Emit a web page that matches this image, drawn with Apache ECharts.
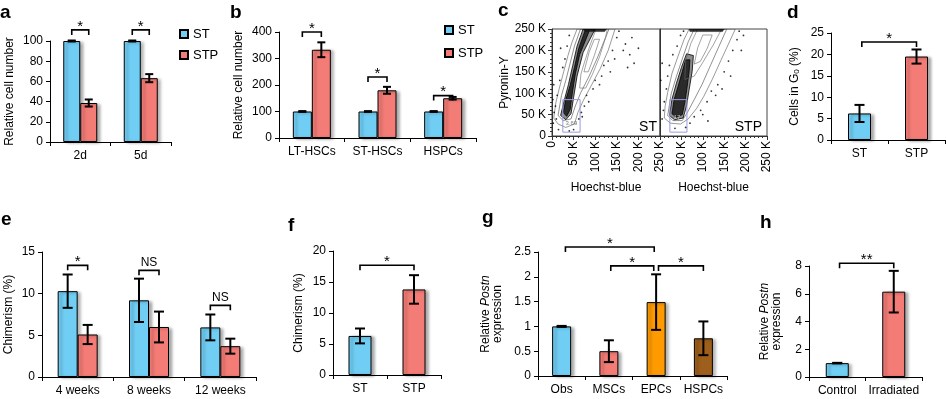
<!DOCTYPE html>
<html>
<head>
<meta charset="utf-8">
<script src="https://cdn.jsdelivr.net/npm/echarts@6/dist/echarts.min.js"></script>
<style>
html, body { margin: 0; padding: 0; background: #fff; }
#chart { width: 946px; height: 399px; }
</style>
</head>
<body>
<div id="chart"></div>
<script>
// ---- datos ----

// a
const aCats = ['2d', '5d'];
const aST = [100, 100];
const aSTErr = [0.5, 0.5];
const aSTP = [38.6, 63.2];
const aSTPErr = [3.5, 4];
const aSigY = [111, 111];
const aSigText = ['*', '*'];

// b
const bCats = ['LT-HSCs', 'ST-HSCs', 'HSPCs'];
const bST = [100, 100, 100];
const bSTErr = [1.5, 1.5, 1.5];
const bSTP = [333, 180, 150];
const bSTPErr = [28, 13, 5];
const bSigY = [400, 230, 160];
const bSigText = ['*', '*', '*'];

// c (citometría, valores en K)
const stOuter = [[4,42],[14,28],[32,20],[52,28],[60,55],[72,82],[92,120],[112,158],[130,200],[146,250],[58,250],[46,218],[37,188],[27,150],[17,112],[9,78],[4,42]];
const stMid = [[14,48],[26,36],[44,40],[54,70],[66,100],[86,140],[106,185],[124,230],[132,250],[66,250],[52,210],[42,170],[32,130],[22,95],[14,48]];
const stDense1 = [[20,48],[32,38],[44,52],[50,90],[58,140],[72,195],[100,250],[72,250],[58,210],[48,165],[38,120],[28,82],[20,48]];
const stDense2 = [[26,55],[34,46],[42,62],[47,100],[54,145],[64,190],[86,245],[76,245],[62,205],[52,160],[42,118],[32,85],[26,55]];
const stLobe1 = [[64,112],[78,112],[94,145],[110,185],[124,230],[128,250],[102,250],[88,212],[76,175],[67,145],[64,112]];
const stLobe2 = [[74,150],[84,150],[98,188],[110,226],[98,226],[86,196],[74,150]];
const stTop = [[76,244],[122,244],[126,250],[72,250]];
const stGate = [[25,9],[65,9],[65,85],[25,85],[25,9]];
const stDots = [[3,30],[5,55],[8,70],[10,40],[12,95],[4,120],[15,15],[18,130],[25,160],[30,180],[35,210],[40,235],[62,40],[68,55],[75,70],[80,95],[95,110],[100,130],[115,140],[120,165],[130,175],[140,200],[150,230],[155,245],[165,200],[170,215],[180,190],[185,230],[190,170],[200,205],[175,160],[145,180],[135,150],[110,120],[85,80],[70,45],[50,15],[40,12],[2,85],[20,205]];
const stGateLabel = [[45, 30]];

const stpOuter = [[10,42],[24,30],[48,28],[66,40],[86,65],[102,92],[122,132],[142,176],[160,215],[176,250],[68,250],[56,225],[42,186],[28,146],[18,102],[12,70],[10,42]];
const stpMid = [[18,48],[30,36],[52,36],[64,55],[80,85],[98,120],[118,165],[138,210],[156,250],[80,250],[66,220],[52,180],[38,138],[26,98],[18,48]];
const stpDense1 = [[22,48],[34,38],[54,42],[62,70],[68,108],[75,150],[78,188],[62,192],[50,160],[38,122],[28,86],[22,48]];
const stpDense2 = [[28,52],[38,44],[52,50],[58,78],[63,112],[68,150],[70,178],[60,178],[52,150],[42,115],[33,85],[28,52]];
const stpLobe1 = [[58,132],[80,140],[100,172],[124,212],[144,250],[88,250],[72,216],[60,176],[58,132]];
const stpLobe2 = [[80,168],[94,174],[110,204],[122,236],[100,236],[88,206],[80,168]];
const stpTop = [[70,244],[146,244],[150,250],[68,250]];
const stpGate = [[23,9],[63,9],[63,85],[23,85],[23,9]];
const stpDots = [[5,40],[8,60],[10,80],[15,110],[18,140],[22,165],[30,190],[40,210],[48,235],[55,245],[2,130],[5,170],[70,30],[80,45],[95,60],[110,80],[120,105],[135,120],[150,150],[160,175],[170,200],[180,225],[185,245],[145,110],[100,50],[60,20],[35,18],[130,95],[190,200],[165,140],[112,35],[195,235]];
const stpGateLabel = [[40, 44]];

// d
const dCats = ['ST', 'STP'];
const dVals = [6.2, 19.5];
const dErr = [2.0, 1.65];
const dSigY = 22.9;

// e
const eCats = ['4 weeks', '8 weeks', '12 weeks'];
const eST = [10.3, 9.2, 5.95];
const eSTErr = [2.0, 2.6, 1.55];
const eSTP = [5.1, 6.0, 3.7];
const eSTPErr = [1.15, 1.85, 0.9];
const eSigY = [13.4, 12.8, 8.6];
const eSigText = ['*', 'NS', 'NS'];

// f
const fCats = ['ST', 'STP'];
const fVals = [6.3, 13.8];
const fErr = [1.2, 2.3];
const fSigY = 17.7;

// g
const gCats = ['Obs', 'MSCs', 'EPCs', 'HSPCs'];
const gVals = [1.0, 0.5, 1.49, 0.76];
const gErr = [0.01, 0.22, 0.56, 0.34];
const gSigY = [2.6, 2.22, 2.22];

// h
const hCats = ['Control', 'Irradiated'];
const hVals = [1.0, 6.15];
const hErr = [0.02, 1.5];
const hSigY = 8.2;

// ---- estilos ----
const FONT = '"Liberation Sans", Arial, Helvetica, sans-serif';
const BLUE = '#70CEF5';
const RED = '#F47C76';
const ORANGE = '#FF9A00';
const BROWN = '#9E5F1C';

const barItem = (color) => ({
    color: color,
    borderColor: '#000',
    borderWidth: 1,
    shadowColor: 'rgba(0,0,0,0.35)',
    shadowBlur: 3,
    shadowOffsetX: 3,
    shadowOffsetY: 1
});

function catAxis(grid, cats) {
    return {
        type: 'category', gridIndex: grid, data: cats, boundaryGap: true,
        axisLine: { lineStyle: { color: '#000', width: 1 } },
        axisTick: { show: true, length: 4, interval: 0, lineStyle: { color: '#000' } },
        axisLabel: { color: '#000', fontSize: 12, fontFamily: FONT, margin: 8, interval: 0 }
    };
}

function valAxis(grid, max, interval, name, nameGap, rich) {
    return {
        type: 'value', gridIndex: grid, min: 0, max: max, interval: interval,
        name: name, nameLocation: 'middle', nameGap: nameGap, nameRotate: 90,
        nameTextStyle: { color: '#000', fontSize: 12, fontFamily: FONT, lineHeight: 12, rich: rich || {} },
        axisLine: { show: true, lineStyle: { color: '#000', width: 1 } },
        axisTick: { show: true, length: 4, lineStyle: { color: '#000' } },
        splitLine: { show: false },
        axisLabel: { color: '#000', fontSize: 12, fontFamily: FONT, margin: 7 }
    };
}

function barSeries(name, grid, values, color, bw) {
    return {
        type: 'bar', name: name, xAxisIndex: grid, yAxisIndex: grid,
        data: values, barWidth: bw, barGap: '0%',
        itemStyle: barItem(color), silent: true
    };
}

function coloredBars(grid, values, colors, bw) {
    return {
        type: 'bar', name: 'bars' + grid, xAxisIndex: grid, yAxisIndex: grid,
        data: values.map((v, i) => ({ value: v, itemStyle: barItem(colors[i]) })),
        barWidth: bw, silent: true
    };
}

// data: [cat, offset (en medias barras), valor, error]
function errorSeries(grid, rows, bw, cap) {
    return {
        type: 'custom', xAxisIndex: grid, yAxisIndex: grid, z: 5, silent: true,
        encode: { x: 0, y: 2 }, data: rows,
        renderItem: function (params, api) {
            const cat = api.value(0), v = api.value(2), e = api.value(3);
            const x = api.coord([cat, v])[0] + api.value(1) * bw / 2;
            const top = api.coord([cat, v + e])[1];
            const bot = api.coord([cat, v - e])[1];
            const st = { stroke: '#000', lineWidth: 2 };
            return {
                type: 'group', children: [
                    { type: 'line', shape: { x1: x, y1: top, x2: x, y2: bot }, style: st },
                    { type: 'line', shape: { x1: x - cap, y1: top, x2: x + cap, y2: top }, style: st },
                    { type: 'line', shape: { x1: x - cap, y1: bot, x2: x + cap, y2: bot }, style: st }
                ]
            };
        }
    };
}

// data: [catA, offA, catB, offB, y]
function bracketSeries(grid, rows, texts, bw, fontSize) {
    return {
        type: 'custom', xAxisIndex: grid, yAxisIndex: grid, z: 6, silent: true,
        encode: { x: 0, y: 4 }, data: rows,
        renderItem: function (params, api) {
            const y = api.coord([api.value(0), api.value(4)])[1];
            const x1 = api.coord([api.value(0), 0])[0] + api.value(1) * bw / 2;
            const x2 = api.coord([api.value(2), 0])[0] + api.value(3) * bw / 2;
            const txt = texts[params.dataIndex];
            return {
                type: 'group', children: [
                    { type: 'polyline', shape: { points: [[x1, y + 5], [x1, y], [x2, y], [x2, y + 5]] },
                      style: { stroke: '#000', lineWidth: 1.6, fill: 'none' } },
                    { type: 'text', x: (x1 + x2) / 2, y: txt === '*' || txt === '**' ? y + 4 : y - 2,
                      style: { text: txt, fill: '#000', font: (txt === 'NS' ? 12 : fontSize) + 'px ' + FONT,
                               align: 'center', verticalAlign: 'bottom' } }
                ]
            };
        }
    };
}

const SHAPE_STYLES = [
    { fill: 'none', stroke: '#555', lineWidth: 0.6 },
    { fill: 'none', stroke: '#444', lineWidth: 0.6 },
    { fill: 'rgba(0,0,0,0.45)', stroke: '#000', lineWidth: 0.8 },
    { fill: 'rgba(0,0,0,0.7)', stroke: '#000', lineWidth: 0.8 },
    { fill: 'none', stroke: '#666', lineWidth: 0.6 },
    { fill: 'none', stroke: '#666', lineWidth: 0.6 },
    { fill: 'rgba(0,0,0,0.8)', stroke: '#222', lineWidth: 0.5 },
    { fill: 'none', stroke: '#9a9ae0', lineWidth: 1 }
];

function shapeSeries(grid, shapes) {
    return {
        type: 'custom', xAxisIndex: grid, yAxisIndex: grid, silent: true, clip: true,
        encode: { x: 0, y: 1 }, data: shapes.map((s, i) => [i, 0]),
        renderItem: function (params, api) {
            const pts = shapes[params.dataIndex].map(p => api.coord(p));
            return { type: 'polygon', shape: { points: pts }, style: Object.assign({}, SHAPE_STYLES[params.dataIndex]) };
        }
    };
}

function dotSeries(grid, dots) {
    return { type: 'scatter', xAxisIndex: grid, yAxisIndex: grid, data: dots, symbolSize: 1.8,
             itemStyle: { color: '#000' }, silent: true };
}

function gateLabel(grid, pos, text, color) {
    return { type: 'scatter', xAxisIndex: grid, yAxisIndex: grid, data: pos, symbolSize: 0, silent: true, z: 8,
             label: { show: true, position: 'inside', formatter: text, fontSize: 6, color: color, fontFamily: FONT } };
}

function flowX(grid, hideZero) {
    return {
        type: 'value', gridIndex: grid, min: 0, max: 250, interval: 50,
        name: 'Hoechst-blue', nameLocation: 'middle', nameGap: 46,
        nameTextStyle: { color: '#000', fontSize: 12, fontFamily: FONT },
        axisLine: { show: true, lineStyle: { color: '#333' } },
        axisTick: { show: true, length: 4, lineStyle: { color: '#333' } },
        minorTick: { show: true, splitNumber: 5, length: 2, lineStyle: { color: '#333' } },
        splitLine: { show: false },
        axisLabel: { rotate: 90, color: '#000', fontSize: 12, fontFamily: FONT, margin: 5,
                     showMinLabel: !hideZero,
                     formatter: v => (v === 0 ? '0' : v + ' K') }
    };
}

function flowY(grid, labels) {
    return {
        type: 'value', gridIndex: grid, min: 0, max: 250, interval: 50,
        name: labels ? 'Pyronin-Y' : '', nameLocation: 'middle', nameGap: 41, nameRotate: 90,
        nameTextStyle: { color: '#000', fontSize: 12, fontFamily: FONT },
        axisLine: { show: true, lineStyle: { color: '#333' } },
        axisTick: { show: labels, length: 4, lineStyle: { color: '#333' } },
        minorTick: { show: labels, splitNumber: 5, length: 2, lineStyle: { color: '#333' } },
        splitLine: { show: false },
        axisLabel: { show: labels, color: '#000', fontSize: 12, fontFamily: FONT, margin: 6,
                     formatter: v => (v === 0 ? '0' : v + ' K') }
    };
}

const chart = echarts.init(document.getElementById('chart'), null, { renderer: 'canvas' });

const letters = [
    ['a', 0, 13], ['b', 230, 13], ['c', 498, 11], ['d', 787, 13],
    ['e', 1, 220], ['f', 288, 226], ['g', 482, 218], ['h', 760, 223]
];

const option = {
    animation: false,
    textStyle: { fontFamily: FONT },
    grid: [
        { left: 50, top: 41, width: 121, height: 101 },     // a
        { left: 279, top: 32, width: 197, height: 106 },    // b
        { left: 552, top: 29, width: 108, height: 107, show: true, borderColor: '#444', borderWidth: 1 }, // c ST
        { left: 660, top: 29, width: 107, height: 107, show: true, borderColor: '#444', borderWidth: 1 }, // c STP
        { left: 831, top: 33, width: 114, height: 107 },    // d
        { left: 42, top: 252, width: 214, height: 125 },    // e
        { left: 333, top: 251, width: 108, height: 124 },   // f
        { left: 538, top: 252, width: 189, height: 124 },   // g
        { left: 809, top: 266, width: 113, height: 111 }    // h
    ],
    xAxis: [
        catAxis(0, aCats), catAxis(1, bCats), flowX(2, false), flowX(3, true),
        catAxis(4, dCats), catAxis(5, eCats), catAxis(6, fCats), catAxis(7, gCats), catAxis(8, hCats)
    ],
    yAxis: [
        valAxis(0, 100, 20, 'Relative cell number', 34),
        valAxis(1, 400, 100, 'Relative cell number', 34),
        flowY(2, true), flowY(3, false),
        valAxis(4, 25, 5, 'Cells in G{s|0} (%)', 30, { s: { fontSize: 8, verticalAlign: 'bottom', fontFamily: FONT } }),
        valAxis(5, 15, 5, 'Chimerism (%)', 27),
        valAxis(6, 20, 5, 'Chimerism (%)', 28),
        valAxis(7, 2.5, 0.5, 'Relative {i|Postn}\nexpression', 34, { i: { fontStyle: 'italic', fontSize: 12, fontFamily: FONT } }),
        valAxis(8, 8, 2, 'Relative {i|Postn}\nexpression', 26, { i: { fontStyle: 'italic', fontSize: 12, fontFamily: FONT } })
    ],
    legend: [
        { left: 174, top: 22, orient: 'vertical', itemWidth: 8, itemHeight: 8, itemGap: 7, itemTextGap: 4,
          selectedMode: false, data: ['ST', 'STP'], icon: 'rect',
          textStyle: { fontSize: 13, color: '#000', fontFamily: FONT, lineHeight: 14 } },
        { left: 439, top: 18, orient: 'vertical', itemWidth: 8, itemHeight: 8, itemGap: 9, itemTextGap: 4,
          selectedMode: false, data: ['ST', 'STP'], icon: 'rect',
          textStyle: { fontSize: 13, color: '#000', fontFamily: FONT, lineHeight: 14 } }
    ],
    graphic: letters.map(l => ({
        type: 'text', x: l[1], y: l[2], silent: true,
        style: { text: l[0], font: 'bold 19px ' + FONT, fill: '#000', align: 'left', verticalAlign: 'middle' }
    })).concat([
        { type: 'text', x: 657, y: 127, silent: true,
          style: { text: 'ST', font: '14px ' + FONT, fill: '#000', align: 'right', verticalAlign: 'middle' } },
        { type: 'text', x: 762, y: 127, silent: true,
          style: { text: 'STP', font: '14px ' + FONT, fill: '#000', align: 'right', verticalAlign: 'middle' } }
    ]),
    series: [
        // a
        barSeries('ST', 0, aST, BLUE, 17),
        barSeries('STP', 0, aSTP, RED, 17),
        errorSeries(0, aST.map((v, i) => [i, -1, v, aSTErr[i]]).concat(aSTP.map((v, i) => [i, 1, v, aSTPErr[i]])), 17, 4),
        bracketSeries(0, aSigY.map((y, i) => [i, -1, i, 1, y]), aSigText, 17, 15),
        // b
        barSeries('ST', 1, bST, BLUE, 19),
        barSeries('STP', 1, bSTP, RED, 19),
        errorSeries(1, bST.map((v, i) => [i, -1, v, bSTErr[i]]).concat(bSTP.map((v, i) => [i, 1, v, bSTPErr[i]])), 19, 4),
        bracketSeries(1, bSigY.map((y, i) => [i, -1, i, 1, y]), bSigText, 19, 15),
        // c
        shapeSeries(2, [stOuter, stMid, stDense1, stDense2, stLobe1, stLobe2, stTop, stGate]),
        dotSeries(2, stDots),
        gateLabel(2, stGateLabel, '3.69', '#555'),
        shapeSeries(3, [stpOuter, stpMid, stpDense1, stpDense2, stpLobe1, stpLobe2, stpTop, stpGate]),
        dotSeries(3, stpDots),
        gateLabel(3, stpGateLabel, '17', '#ddd'),
        // d
        coloredBars(4, dVals, [BLUE, RED], 23),
        errorSeries(4, dVals.map((v, i) => [i, 0, v, dErr[i]]), 23, 5),
        bracketSeries(4, [[0, 0.2, 1, 0, dSigY]], ['*'], 23, 15),
        // e
        barSeries('ST', 5, eST, BLUE, 20),
        barSeries('STP', 5, eSTP, RED, 20),
        errorSeries(5, eST.map((v, i) => [i, -1, v, eSTErr[i]]).concat(eSTP.map((v, i) => [i, 1, v, eSTPErr[i]])), 20, 5),
        bracketSeries(5, eSigY.map((y, i) => [i, -1, i, 1, y]), eSigText, 20, 15),
        // f
        coloredBars(6, fVals, [BLUE, RED], 23),
        errorSeries(6, fVals.map((v, i) => [i, 0, v, fErr[i]]), 23, 5),
        bracketSeries(6, [[0, 0, 1, 0, fSigY]], ['*'], 23, 15),
        // g
        coloredBars(7, gVals, [BLUE, RED, ORANGE, BROWN], 19),
        errorSeries(7, gVals.map((v, i) => [i, 0, v, gErr[i]]), 19, 5),
        bracketSeries(7, [[0, 0.4, 2, -0.2, gSigY[0]], [1, 0.2, 2, -0.25, gSigY[1]], [2, 0.25, 3, 0, gSigY[2]]],
                      ['*', '*', '*'], 19, 15),
        // h
        coloredBars(8, hVals, [BLUE, RED], 23),
        errorSeries(8, hVals.map((v, i) => [i, 0, v, hErr[i]]), 23, 5),
        bracketSeries(8, [[0, 0.2, 1, 0, hSigY]], ['**'], 23, 15)
    ]
};

chart.setOption(option);
</script>
</body>
</html>
